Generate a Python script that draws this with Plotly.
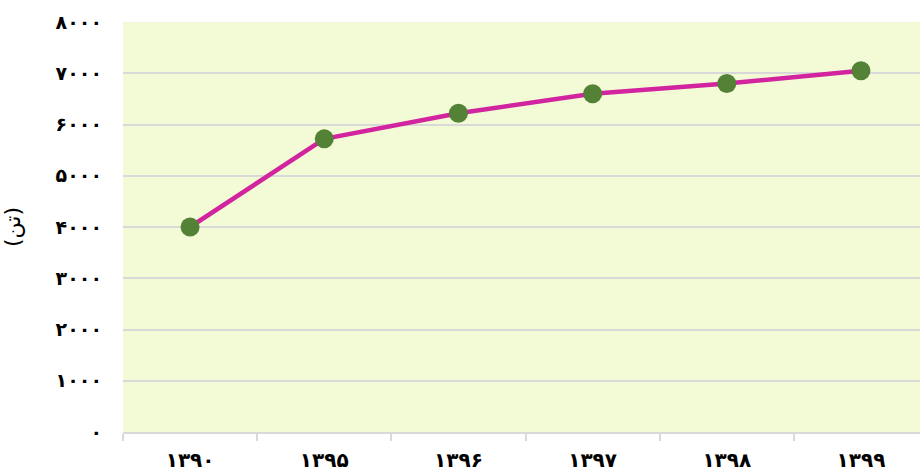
import plotly.graph_objects as go

# Annual values (tonnes) by Persian calendar year
years = ["۱۳۹۰", "۱۳۹۵", "۱۳۹۶", "۱۳۹۷", "۱۳۹۸", "۱۳۹۹"]
values = [4000, 5720, 6220, 6600, 6800, 7050]

y_tick_vals = [0, 1000, 2000, 3000, 4000, 5000, 6000, 7000, 8000]
y_tick_text = ["۰", "۱۰۰۰", "۲۰۰۰", "۳۰۰۰", "۴۰۰۰", "۵۰۰۰", "۶۰۰۰", "۷۰۰۰", "۸۰۰۰"]
y_title = "(تن)"

font_family = "DejaVu Sans, Noto Sans, sans-serif"

fig = go.Figure(
    go.Scatter(
        x=years,
        y=values,
        mode="lines+markers",
        line=dict(color="#d2249f", width=4.5),
        marker=dict(color="#538135", size=19),
        hoverinfo="skip",
    )
)

fig.update_layout(
    width=920,
    height=473,
    margin=dict(l=123, r=0, t=22, b=41),
    paper_bgcolor="white",
    plot_bgcolor="#f3fad6",
    showlegend=False,
    font=dict(family=font_family, color="black"),
)

fig.update_xaxes(
    type="category",
    range=[-0.5, 5.44],
    tickson="boundaries",
    ticks="outside",
    ticklen=7,
    tickwidth=2,
    tickcolor="#d9d9d9",
    showline=True,
    linecolor="#d9d9d9",
    linewidth=2,
    showgrid=False,
    tickfont=dict(size=20, family=font_family, weight="bold"),
    ticklabelstandoff=9,
)

fig.update_yaxes(
    range=[0, 8000],
    tickvals=y_tick_vals,
    ticktext=y_tick_text,
    showgrid=True,
    gridcolor="#d9d9d9",
    gridwidth=2,
    zeroline=False,
    showline=False,
    ticks="",
    tickfont=dict(size=19, family=font_family, weight="bold"),
    ticklabelstandoff=20,
    title=dict(text=y_title, font=dict(size=22, family=font_family), standoff=30),
)

fig.write_html("out.html")
